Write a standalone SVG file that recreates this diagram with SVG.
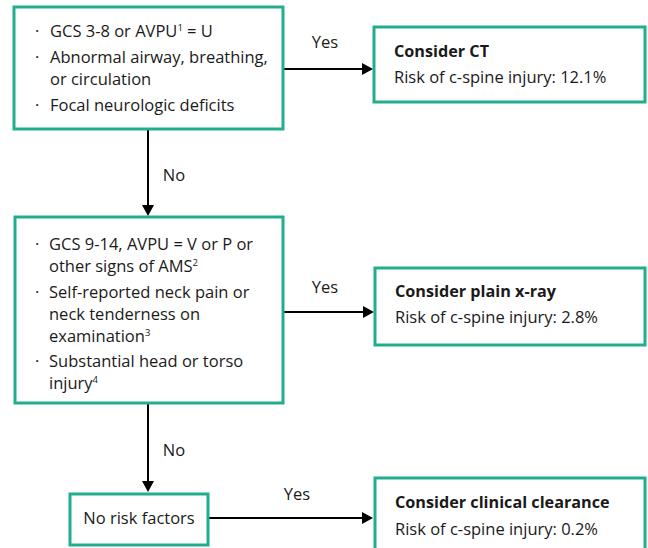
<svg xmlns="http://www.w3.org/2000/svg" width="648" height="548" viewBox="0 0 648 548">
<defs>
<style>
text{font-family:"Open Sans","Noto Sans","Liberation Sans",sans-serif;font-size:16.5px;fill:#1a1a1a}
.b{font-weight:bold;font-size:16.2px}
.box{fill:#fff;stroke:#22ae8e;stroke-width:3}
.ln{stroke:#000;stroke-width:2;fill:none}
.sup{font-size:9.5px}
</style>
</defs>
<rect width="648" height="548" fill="#fff"/>
<g id="connectors">
<line class="ln" x1="283" y1="69" x2="364" y2="69"/>
<line class="ln" x1="148" y1="129" x2="148" y2="206"/>
<line class="ln" x1="284" y1="312" x2="365" y2="312"/>
<line class="ln" x1="148" y1="404" x2="148" y2="482"/>
<line class="ln" x1="208" y1="518" x2="364" y2="518"/>
<path d="M362,63 L373,69 L362,75 z"/>
<path d="M142,205 L148,216 L154,205 z"/>
<path d="M363,306 L374,312 L363,318 z"/>
<path d="M142,481 L148,492 L154,481 z"/>
<path d="M362,512 L373,518 L362,524 z"/>
<text x="325" y="48" text-anchor="middle">Yes</text>
<text x="174" y="181" text-anchor="middle">No</text>
<text x="325" y="293" text-anchor="middle">Yes</text>
<text x="174" y="456" text-anchor="middle">No</text>
<text x="297" y="500" text-anchor="middle">Yes</text>
</g>
<g id="n1">
<rect class="box" x="14" y="7" width="269" height="122"/>
<text x="35" y="37">·</text><text x="50" y="37">GCS 3-8 or AVPU<tspan class="sup" dy="-6">1</tspan><tspan dy="6"> = U</tspan></text>
<text x="35" y="63">·</text><text x="50" y="63">Abnormal airway, breathing,</text>
<text x="50" y="85">or circulation</text>
<text x="35" y="111">·</text><text x="50" y="111">Focal neurologic deficits</text>
</g>
<g id="n2">
<rect class="box" x="374" y="27" width="271" height="75"/>
<text class="b" x="394" y="57">Consider CT</text>
<text x="394" y="83">Risk of c-spine injury: 12.1%</text>
</g>
<g id="n3">
<rect class="box" x="15" y="217" width="268" height="186"/>
<text x="35" y="250">·</text><text x="49" y="250">GCS 9-14, AVPU = V or P or</text>
<text x="49" y="272">other signs of AMS<tspan class="sup" dy="-6">2</tspan></text>
<text x="35" y="298">·</text><text x="49" y="298">Self-reported neck pain or</text>
<text x="49" y="320">neck tenderness on</text>
<text x="49" y="342">examination<tspan class="sup" dy="-6">3</tspan></text>
<text x="35" y="367">·</text><text x="49" y="367">Substantial head or torso</text>
<text x="49" y="389">injury<tspan class="sup" dy="-6">4</tspan></text>
</g>
<g id="n4">
<rect class="box" x="375" y="268" width="270" height="77"/>
<text class="b" x="395" y="297">Consider plain x-ray</text>
<text x="395" y="323">Risk of c-spine injury: 2.8%</text>
</g>
<g id="n5">
<rect class="box" x="70" y="494" width="138" height="51"/>
<text x="139" y="524" text-anchor="middle">No risk factors</text>
</g>
<g id="n6">
<rect class="box" x="375" y="478" width="270" height="90"/>
<text class="b" x="395" y="508">Consider clinical clearance</text>
<text x="395" y="535">Risk of c-spine injury: 0.2%</text>
</g>
</svg>
